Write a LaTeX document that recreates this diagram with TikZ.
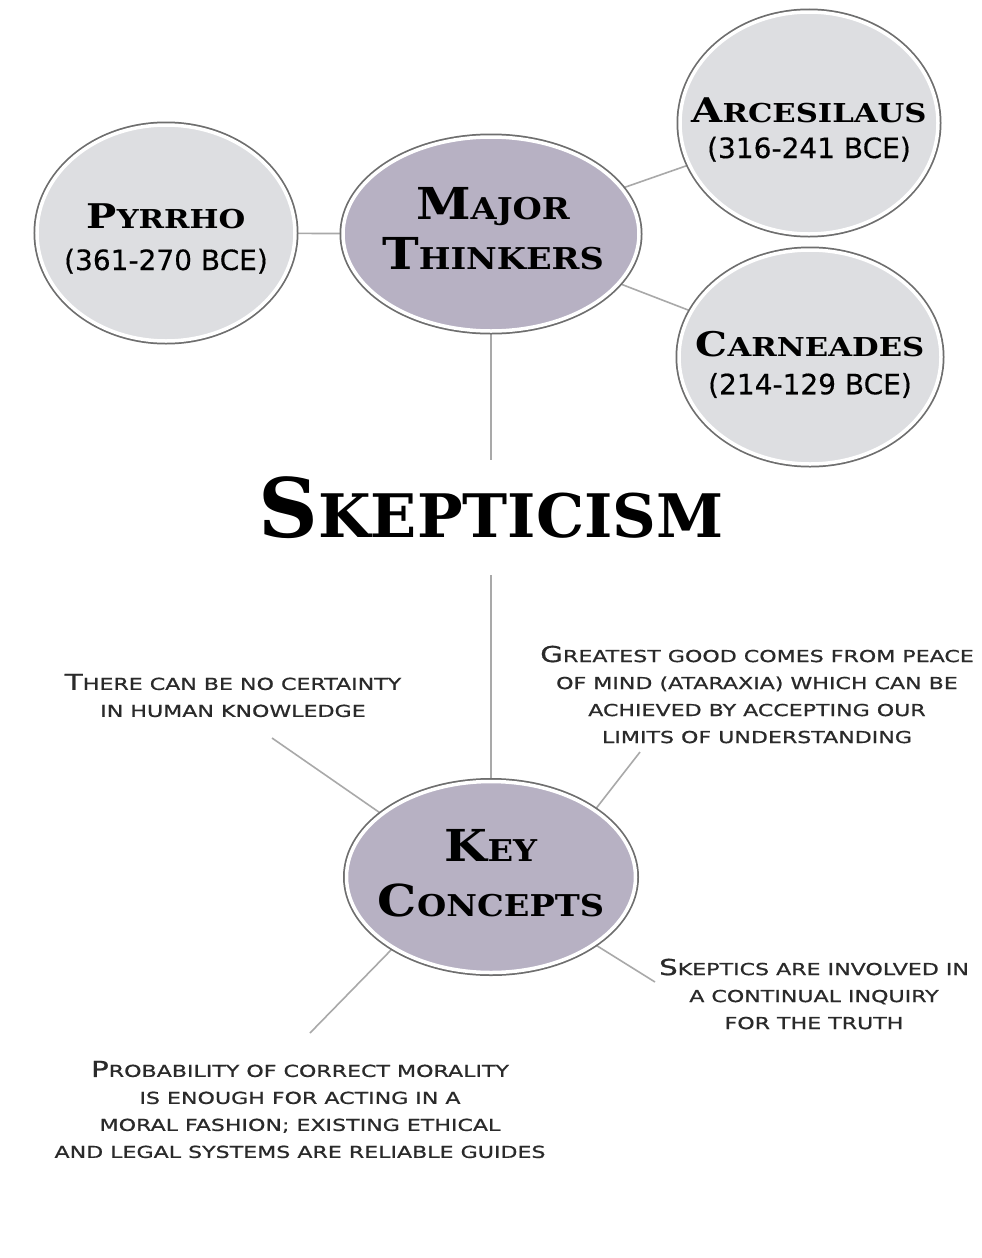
\documentclass[tikz,border=0pt]{standalone}
\usepackage{fontspec}
\usetikzlibrary{shapes.geometric}
\newfontfamily\labfont{DejaVu Serif}[FakeStretch=1.18]
\newfontfamily\hubfont{DejaVu Serif}[FakeStretch=1.12]
\newfontfamily\titlefont{DejaVu Serif}[FakeStretch=1.01]
\newfontfamily\bodyfont{DejaVu Sans}[FakeStretch=1.34,FakeBold=0.8]
\newfontfamily\datefont{DejaVu Sans}[FakeBold=0.4]
\definecolor{thinkfill}{HTML}{DDDEE1}
\definecolor{mainfill}{HTML}{B7B1C3}
\definecolor{ringgray}{HTML}{6E6E6E}
\definecolor{conngray}{HTML}{A9A9A9}
\definecolor{bodytext}{HTML}{2A2A2A}
\newcommand\fsz[2]{{\fontsize{#1}{#1}\selectfont #2}}
\newcommand\bs[1]{\fsz{16.5}{#1}}
\newcommand\ls[1]{\fsz{26}{#1}}
\newcommand\ms[1]{\fsz{30}{#1}}
\pgfdeclarelayer{background}
\pgfsetlayers{background,main}
\tikzset{
  ringed/.style={ellipse, inner sep=0pt, draw=white, line width=3.5pt,
    preaction={draw=ringgray, line width=7pt}},
  thinker/.style={ringed, fill=thinkfill},
  hub/.style={ringed, fill=mainfill},
  labtext/.style={align=center, inner sep=0pt, text=black,
    font=\labfont\bfseries\fontsize{34}{40}\selectfont},
  hubtext/.style={align=center, inner sep=0pt, text=black,
    font=\hubfont\bfseries\fontsize{44}{52}\selectfont},
  bodytxt/.style={align=center, inner sep=0pt, text=bodytext,
    font=\bodyfont\fontsize{22}{27}\selectfont},
  datetxt/.style={font=\datefont\mdseries\fontsize{28}{28}\selectfont},
  conn/.style={draw=conngray, line width=1.6pt},
}
\begin{document}
\begin{tikzpicture}[x=1pt,y=-1pt]
\useasboundingbox (0,0) rectangle (982,1258);

% ellipses
\node[thinker, minimum width=258pt, minimum height=216pt] (pyr) at (166,233) {};
\node[hub, minimum width=296pt, minimum height=194pt] (maj) at (491,234) {};
\node[thinker, minimum width=258pt, minimum height=222pt] (arc) at (809,123) {};
\node[thinker, minimum width=262pt, minimum height=214pt] (car) at (810,357) {};
\node[hub, minimum width=289pt, minimum height=191pt] (key) at (491,877) {};

% labels inside ellipses
\node[labtext] (pyrt) at (166,238.5) {P\ls{YRRHO}\\[2pt]{\datefont\fontsize{28}{28}\selectfont\mdseries (361-270 BCE)}};
\node[labtext] (arct) at (809,129.5) {A\ls{RCESILAUS}\\[-4pt]{\datefont\fontsize{28}{28}\selectfont\mdseries (316-241 BCE)}};
\node[labtext] (cart) at (810,364.5) {C\ls{ARNEADES}\\[-2pt]{\datefont\fontsize{28}{28}\selectfont\mdseries (214-129 BCE)}};
\node[hubtext] (majt) at (493,229) {M\ms{AJOR}\\[-2pt]T\ms{HINKERS}};
\node[hubtext] (keyt) at (491,873.5) {K\ms{EY}\\[3pt]C\ms{ONCEPTS}};

% title
\node[anchor=base, inner xsep=0pt, inner ysep=17pt, text height=60pt, text depth=21pt,
  font=\titlefont\bfseries\fontsize{82}{82}\selectfont] (title) at (491,537) {S\fsz{60}{KEPTICISM}};

% concept texts
\node[bodytxt] (c1) at (233,695.5) {T\bs{HERE CAN BE NO CERTAINTY}\\\bs{IN HUMAN KNOWLEDGE}};
\node[bodytxt] (c2) at (757,694.5) {G\bs{REATEST GOOD COMES FROM PEACE}\\\bs{OF MIND (ATARAXIA) WHICH CAN BE}\\\bs{ACHIEVED BY ACCEPTING OUR}\\\bs{LIMITS OF UNDERSTANDING}};
\node[bodytxt] (c3) at (814,994) {S\bs{KEPTICS ARE INVOLVED IN}\\\bs{A CONTINUAL INQUIRY}\\\bs{FOR THE TRUTH}};
\node[bodytxt] (c4) at (300,1109.5) {P\bs{ROBABILITY OF CORRECT MORALITY}\\\bs{IS ENOUGH FOR ACTING IN A}\\\bs{MORAL FASHION; EXISTING ETHICAL}\\\bs{AND LEGAL SYSTEMS ARE RELIABLE GUIDES}};

% free ends of the concept connectors
\coordinate (e1) at (272,738);
\coordinate (e2) at (640,752);
\coordinate (e3) at (655,982);
\coordinate (e4) at (310,1033);

\begin{pgfonlayer}{background}
\fill[white] (0,0) rectangle (982,1258);
\draw[conn] (pyr) -- (maj);
\draw[conn] (maj) -- (arc);
\draw[conn] (maj) -- (car);
\draw[conn] (maj) -- (title);
\draw[conn] (title) -- (key);
\draw[conn] (key.150) -- (e1);
\draw[conn] (key.33) -- (e2);
\draw[conn] (key.-33) -- (e3);
\draw[conn] (key.-144) -- (e4);
\end{pgfonlayer}
\end{tikzpicture}
\end{document}
